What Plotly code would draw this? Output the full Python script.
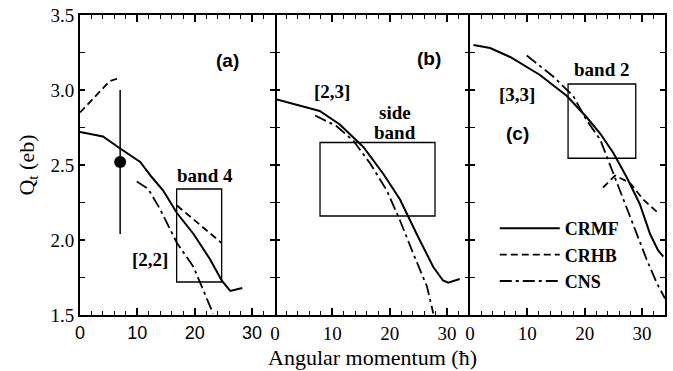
import plotly.graph_objects as go

# ---------------- data ----------------
# panel (a)  [2,2]
crmf_a_x = [0, 4, 7, 10.5, 12.5, 14.5, 16.9, 19.8, 22.7, 24.7, 26.2, 27.3, 28.3]
crmf_a_y = [2.72, 2.69, 2.61, 2.52, 2.42, 2.33, 2.18, 2.04, 1.87, 1.73, 1.66, 1.67, 1.68]
crhb_a_x = [0, 2.9, 5.2, 6.9, None, 16.9, 20.9, 24.7]
crhb_a_y = [2.85, 2.97, 3.06, 3.08, None, 2.23, 2.10, 1.98]
cns_a_x = [9.9, 11.9, 13.9, 16.9, 19.8, 21.5, 23.2]
cns_a_y = [2.39, 2.34, 2.21, 1.98, 1.82, 1.67, 1.51]
exp_a_x = [7.0]
exp_a_y = [2.52]
exp_a_err = [0.48]

# panel (b)  [2,3]
crmf_b_x = [0, 7.8, 11.3, 15.4, 18.9, 21.8, 24.7, 27.6, 29.3, 30.2, 32.2]
crmf_b_y = [2.94, 2.86, 2.77, 2.62, 2.44, 2.27, 2.04, 1.82, 1.73, 1.715, 1.74]
cns_b_x = [7.0, 10.7, 13.7, 16.6, 19.5, 21.8, 24.1, 26.5, 27.6]
cns_b_y = [2.83, 2.76, 2.66, 2.51, 2.33, 2.13, 1.91, 1.69, 1.51]

# panel (c)  [3,3]
crmf_c_x = [0.6, 3.5, 7.0, 12.2, 16.9, 20.3, 22.7, 25, 27.3, 29.6, 31.4, 32.8, 33.7]
crmf_c_y = [3.30, 3.28, 3.22, 3.10, 2.96, 2.82, 2.71, 2.58, 2.42, 2.24, 2.04, 1.93, 1.89]
crhb_c_x = [23.2, 25.3, 27.9, 30.2, 32.8]
crhb_c_y = [2.35, 2.43, 2.38, 2.27, 2.18]
cns_c_x = [9.9, 14.5, 18, 20.3, 22.7, 24.1, 26.2, 28.5, 30.8, 32.6, 34]
cns_c_y = [3.23, 3.09, 2.96, 2.80, 2.67, 2.53, 2.33, 2.09, 1.87, 1.71, 1.61]

# experimental band boxes: [x0, x1, y0, y1]
box_a = [16.85, 24.7, 1.72, 2.34]
box_b = [7.85, 27.9, 2.16, 2.65]
box_c = [17.1, 28.9, 2.545, 3.04]

x_ticks = [0, 10, 20, 30]
x_tick_text = ["0", "10", "20", "30"]
y_ticks = [1.5, 2.0, 2.5, 3.0, 3.5]
y_tick_text = ["1.5", "2.0", "2.5", "3.0", "3.5"]

SERIF = "Liberation Serif"
SANS = "Liberation Sans"

solid = dict(color="black", width=2)
dashed = dict(color="black", width=1.8, dash="7px,4px")
dashdot = dict(color="black", width=1.8, dash="12px,4px,3px,4px")

fig = go.Figure()

def add(x, y, line, ax, name, show):
    fig.add_trace(go.Scatter(x=x, y=y, mode="lines", line=line,
                             xaxis="x" + ax, yaxis="y" + ax, name=name,
                             showlegend=show, connectgaps=False,
                             hoverinfo="skip"))

add(crmf_a_x, crmf_a_y, solid, "", "CRMF", False)
add(crhb_a_x, crhb_a_y, dashed, "", "CRHB", False)
add(cns_a_x, cns_a_y, dashdot, "", "CNS", False)
fig.add_trace(go.Scatter(x=exp_a_x, y=exp_a_y, mode="markers",
                         marker=dict(color="black", size=12),
                         error_y=dict(type="data", array=exp_a_err, color="black",
                                      thickness=1.5, width=0),
                         showlegend=False, hoverinfo="skip"))

add(crmf_b_x, crmf_b_y, solid, "2", "CRMF", False)
add(cns_b_x, cns_b_y, dashdot, "2", "CNS", False)

add(crmf_c_x, crmf_c_y, solid, "3", "CRMF", True)
add(crhb_c_x, crhb_c_y, dashed, "3", "CRHB", True)
add(cns_c_x, cns_c_y, dashdot, "3", "CNS", True)

# boxes
for b, xr, yr in [(box_a, "x", "y"), (box_b, "x2", "y2"), (box_c, "x3", "y3")]:
    fig.add_shape(type="rect", xref=xr, yref=yr, x0=b[0], x1=b[1], y0=b[2], y1=b[3],
                  line=dict(color="black", width=1.3))

# annotations
def ann(text, x, y, ax, font):
    fig.add_annotation(text=text, x=x, y=y, xref="x" + ax, yref="y" + ax,
                       showarrow=False, font=font, xanchor="center", yanchor="middle")

lab_sans = dict(family=SANS, size=19, color="black", weight="bold")
lab_serif = dict(family=SERIF, size=19, color="black", weight="bold")

ann("(a)", 25.8, 3.2, "", lab_sans)
ann("band 4", 21.8, 2.43, "", lab_serif)
ann("[2,2]", 12.2, 1.87, "", lab_serif)
ann("(b)", 26.9, 3.21, "2", lab_sans)
ann("[2,3]", 9.9, 2.99, "2", lab_serif)
ann("side", 20.9, 2.847, "2", lab_serif)
ann("band", 20.9, 2.72, "2", lab_serif)
ann("(c)", 8.2, 2.71, "3", lab_sans)
ann("[3,3]", 8.2, 2.97, "3", lab_serif)
ann("band 2", 23.0, 3.14, "3", lab_serif)

fig.add_annotation(text="Angular momentum (ħ)", x=0.5, y=-0.14, xref="paper", yref="paper",
                   showarrow=False, font=dict(family=SERIF, size=22, color="black"),
                   xanchor="center", yanchor="middle")

def xaxis(dom, anchor, font):
    return dict(domain=dom, anchor=anchor, range=[0, 34], tickvals=x_ticks,
                ticktext=x_tick_text, ticks="inside", ticklen=7, tickwidth=1.5,
                tickcolor="black", showline=True, linecolor="black", linewidth=2,
                mirror="ticks", showgrid=False, zeroline=False, tickfont=font,
                automargin=False, ticklabeloverflow="allow",
                minor=dict(dtick=2, tick0=0, ticks="inside", ticklen=4, tickwidth=1.2,
                           tickcolor="black", showgrid=False))

def yaxis(anchor, labels, line):
    return dict(anchor=anchor, range=[1.5, 3.5], tickvals=y_ticks, ticktext=y_tick_text,
                showticklabels=labels, ticks="inside", ticklen=5, tickwidth=1.5,
                tickcolor="black", showline=line, linecolor="black", linewidth=2,
                mirror="ticks", showgrid=False, zeroline=False, automargin=False,
                ticklabeloverflow="allow",
                tickfont=dict(family=SERIF, size=19, color="black"),
                minor=dict(dtick=0.25, tick0=1.5, ticks="inside", ticklen=5, tickwidth=1.2,
                           tickcolor="black", showgrid=False))

fig.update_layout(
    width=673, height=371,
    margin=dict(l=80, r=8, t=15, b=56),
    paper_bgcolor="white", plot_bgcolor="white",
    xaxis=xaxis([0, 1/3], "y", dict(family=SANS, size=18, color="black")),
    xaxis2=xaxis([1/3, 2/3], "y2", dict(family=SERIF, size=19, color="black")),
    xaxis3=xaxis([2/3, 1], "y3", dict(family=SERIF, size=19, color="black")),
    yaxis=yaxis("x", True, True),
    yaxis2=yaxis("x2", False, False),
    yaxis3=yaxis("x3", False, True),
    showlegend=True,
    hovermode=False,
    legend=dict(x=0.709, y=0.35, xanchor="left", yanchor="top",
                bgcolor="rgba(0,0,0,0)", borderwidth=0, itemwidth=60,
                font=dict(family=SERIF, size=18, color="black", weight="bold"),
                tracegroupgap=0),
)
fig.layout.yaxis.title = dict(text="Q<sub>t</sub> (eb)",
                              font=dict(family=SERIF, size=22, color="black"), standoff=10)

# remove the default 8px page margin so the figure fills the window exactly
fig.write_html("out.html", config={"displayModeBar": False},
               post_script="document.body.style.margin='0px';")
